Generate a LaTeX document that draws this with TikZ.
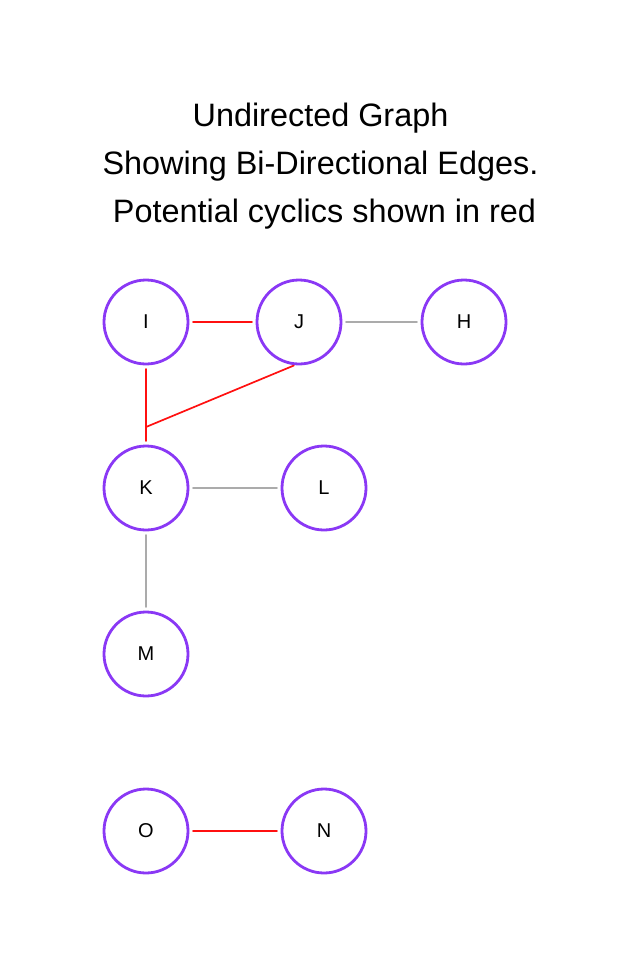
\documentclass[tikz,border=0pt]{standalone}
\usepackage{fontspec}
\setmainfont{Liberation Sans}
\definecolor{vertexpurple}{HTML}{8A38F5}
\definecolor{cyclered}{HTML}{FF1010}
\definecolor{plaingray}{HTML}{ABABAB}
\begin{document}
\begin{tikzpicture}[x=1pt, y=-1pt, line cap=round, line join=round,
  vertex/.style={circle, draw=vertexpurple, line width=2.8pt, minimum size=84pt,
    inner sep=0pt, outer sep=0pt, font=\fontsize{20}{24}\selectfont},
  cycedge/.style={draw=cyclered, line width=1.7pt, shorten <=5pt, shorten >=5pt},
  plainedge/.style={draw=plaingray, line width=1.7pt, shorten <=5pt, shorten >=5pt},
  titletext/.style={font=\fontsize{32.4}{38}\selectfont, anchor=base}]

% Rahmen
\useasboundingbox (0,0) rectangle (640,978);

% Titel
\node[titletext] (t1) at (320.5,126) {Undirected Graph};
\node[titletext] (t2) at (320.5,174) {Showing Bi-Directional Edges.};
\node[titletext] (t3) at (324.5,222) {Potential cyclics shown in red};

% Knoten
\node[vertex] (I) at (146,322) {I};
\node[vertex] (J) at (299,322) {J};
\node[vertex] (H) at (464,322) {H};
\node[vertex] (K) at (146,488) {K};
\node[vertex] (L) at (324,488) {L};
\node[vertex] (M) at (146,654) {M};
\node[vertex] (O) at (146,831) {O};
\node[vertex] (N) at (324,831) {N};

% Treffpunkt J--K auf der Kante I--K
\coordinate (jk) at (146,427);

% Kanten im Zyklus (rot)
\draw[cycedge] (I) -- (J);
\draw[cycedge] (I) -- (K);
\draw[cycedge, shorten <=4pt, shorten >=0pt] ([xshift=-1.5pt]J.south) -- (jk);
\draw[cycedge] (O) -- (N);

% uebrige Kanten (grau)
\draw[plainedge] (J) -- (H);
\draw[plainedge] (K) -- (L);
\draw[plainedge] (K) -- (M);

\end{tikzpicture}
\end{document}
